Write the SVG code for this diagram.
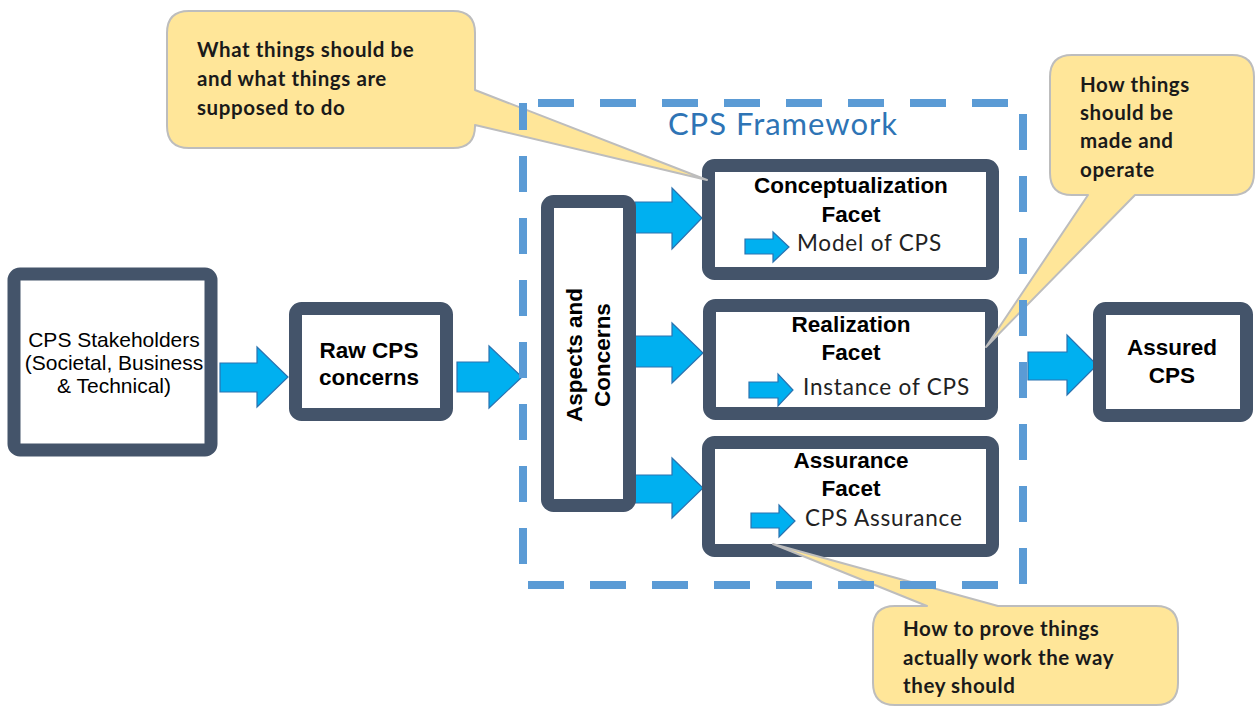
<svg xmlns="http://www.w3.org/2000/svg" width="1256" height="707" viewBox="0 0 1256 707">
<style>
.box{fill:#ffffff;stroke:#44546A;stroke-width:13}
.arr{fill:#00B0F0;stroke:#2A72B0;stroke-width:1.2;stroke-linejoin:miter}
.callout{fill:#FFE699;stroke:#BDBDBD;stroke-width:2;stroke-linejoin:round}
.ct{font-family:Lato,"Open Sans",sans-serif;font-weight:bold;font-size:20.5px;letter-spacing:0.6px;fill:#1a1a1a}
.bt{font-family:"Liberation Sans",Arial,sans-serif;font-weight:bold;font-size:22.5px;fill:#000;text-anchor:middle}
.rt{font-family:"Liberation Sans",Arial,sans-serif;font-size:21px;fill:#000;text-anchor:middle}
.st{font-family:Lato,"Open Sans",sans-serif;font-size:22.5px;letter-spacing:0.8px;fill:#222}
.frame{fill:none;stroke:#5B9BD5;stroke-width:8;stroke-dasharray:36 26;stroke-dashoffset:47}
.ft{font-family:Lato,"Open Sans",sans-serif;font-size:31px;letter-spacing:1px;fill:#2E74B5;text-anchor:middle}
</style>
<rect width="1256" height="707" fill="#ffffff"/>
<g id="connectors">
<polygon class="arr" points="220,363 257,363 257,347 288,377 257,407 257,392 220,392"/>
<polygon class="arr" points="457,362 489,362 489,346 522,377 489,408 489,392 457,392"/>
<polygon class="arr" points="635,202 672,202 672,188 702,218 672,249 672,233 635,233"/>
<polygon class="arr" points="635,336 672,336 672,323 703,353 672,383 672,367 635,367"/>
<polygon class="arr" points="635,475 672,475 672,458 703,488 672,518 672,503 635,503"/>
<polygon class="arr" points="1028,352 1067,352 1067,335 1097,365 1067,395 1067,380 1028,380"/>
</g>
<g id="stakeholders">
<rect class="box" x="14" y="274" width="197" height="176" rx="6" stroke-width="14"/>
<text class="rt" x="114" y="347">CPS Stakeholders</text>
<text class="rt" x="114" y="370">(Societal, Business</text>
<text class="rt" x="114" y="393">&amp; Technical)</text>
</g>
<g id="raw-concerns">
<rect class="box" x="295.5" y="308.5" width="151" height="106" rx="6"/>
<text class="bt" x="369" y="358">Raw CPS</text>
<text class="bt" x="369" y="385">concerns</text>
</g>
<g id="aspects">
<rect class="box" x="547.5" y="201.5" width="82" height="304" rx="6"/>
<text class="bt" transform="translate(582,355) rotate(-90)">Aspects and</text>
<text class="bt" transform="translate(610,355) rotate(-90)">Concerns</text>
</g>
<g id="conceptualization">
<rect class="box" x="708.5" y="165.5" width="284" height="108" rx="6"/>
<text class="bt" x="851" y="193">Conceptualization</text>
<text class="bt" x="851" y="222">Facet</text>
<polygon class="arr" points="745,239 773,239 773,232 789,247 773,262 773,254 745,254"/>
<text class="st" x="797" y="251">Model of CPS</text>
</g>
<g id="realization">
<rect class="box" x="709.5" y="305.5" width="282" height="108" rx="6"/>
<text class="bt" x="851" y="332">Realization</text>
<text class="bt" x="851" y="360">Facet</text>
<polygon class="arr" points="749,382 778,382 778,374 793,390 778,406 778,398 749,398"/>
<text class="st" x="803" y="395">Instance of CPS</text>
</g>
<g id="assurance">
<rect class="box" x="708.5" y="442.5" width="284" height="108" rx="6"/>
<text class="bt" x="851" y="468">Assurance</text>
<text class="bt" x="851" y="496">Facet</text>
<polygon class="arr" points="751,513 779,513 779,505 795,521 779,537 779,528 751,528"/>
<text class="st" x="805" y="526">CPS Assurance</text>
</g>
<g id="assured-cps">
<rect class="box" x="1099.5" y="308.5" width="147" height="107" rx="6"/>
<text class="bt" x="1172" y="355">Assured</text>
<text class="bt" x="1172" y="383">CPS</text>
</g>
<g id="callout-what">
<path class="callout" d="M189,11 H453 Q475,11 475,33 V90 L707,180 L475,125 V126 Q475,148 453,148 H189 Q167,148 167,126 V33 Q167,11 189,11 Z"/>
<text class="ct" x="197" y="57">What things should be</text>
<text class="ct" x="197" y="86">and what things are</text>
<text class="ct" x="197" y="115">supposed to do</text>
</g>
<g id="callout-how">
<path class="callout" d="M1072,55 H1232 Q1254,55 1254,77 V173 Q1254,195 1232,195 H1135 L986,347 L1088,195 H1072 Q1050,195 1050,173 V77 Q1050,55 1072,55 Z"/>
<text class="ct" x="1080" y="92">How things</text>
<text class="ct" x="1080" y="120">should be</text>
<text class="ct" x="1080" y="148">made and</text>
<text class="ct" x="1080" y="177">operate</text>
</g>
<g id="callout-prove">
<path class="callout" d="M895,606 H927 L773,544 L998,606 H1156 Q1178,606 1178,628 V683 Q1178,705 1156,705 H895 Q873,705 873,683 V628 Q873,606 895,606 Z"/>
<text class="ct" x="903" y="636">How to prove things</text>
<text class="ct" x="903" y="665">actually work the way</text>
<text class="ct" x="903" y="693">they should</text>
</g>
<g id="cps-framework">
<rect class="frame" x="523" y="103" width="500" height="482"/>
<text class="ft" x="783" y="135">CPS Framework</text>
</g>
</svg>
